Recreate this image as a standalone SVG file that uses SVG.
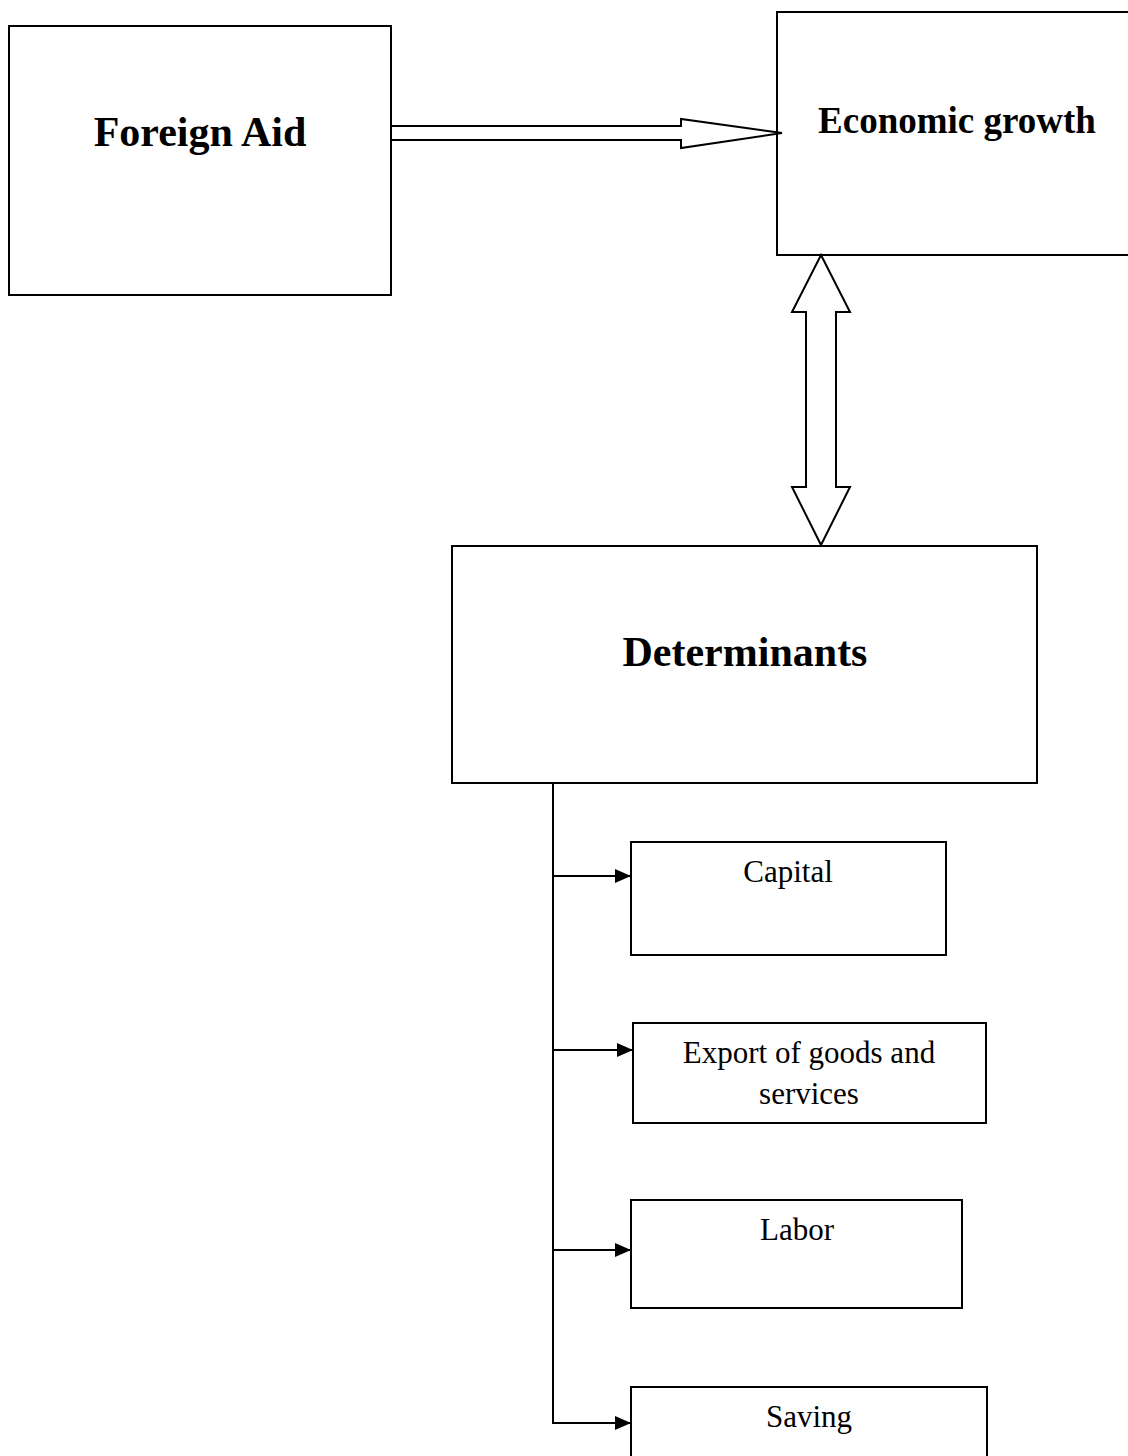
<svg xmlns="http://www.w3.org/2000/svg" width="1128" height="1456" viewBox="0 0 1128 1456">
<style>
.box{fill:#fff;stroke:#000;stroke-width:2}
.blk{fill:#fff;stroke:#000;stroke-width:2;stroke-linejoin:miter}
.ln{fill:none;stroke:#000;stroke-width:2}
.tb{font-family:"Liberation Serif","Times New Roman",serif;font-weight:bold;text-anchor:middle;fill:#000}
.tr{font-family:"Liberation Serif","Times New Roman",serif;font-size:31px;text-anchor:middle;fill:#000}
</style>
<defs>
<marker id="ah" markerWidth="16" markerHeight="16" viewBox="0 0 16 16" refX="16" refY="8" orient="auto" markerUnits="userSpaceOnUse">
<path d="M0,1 L16,8 L0,15 Z" fill="#000"/>
</marker>
</defs>
<rect width="1128" height="1456" fill="#fff"/>
<g id="foreign-aid">
<rect class="box" x="9" y="26" width="382" height="269"/>
<text class="tb" x="200" y="146" font-size="42">Foreign Aid</text>
</g>
<g id="economic-growth">
<rect class="box" x="777" y="12" width="360" height="243"/>
<text class="tb" x="957" y="133" font-size="37">Economic growth</text>
</g>
<g id="determinants">
<rect class="box" x="452" y="546" width="585" height="237"/>
<text class="tb" x="745" y="666" font-size="42">Determinants</text>
</g>
<g id="capital">
<rect class="box" x="631" y="842" width="315" height="113"/>
<text class="tr" x="788" y="882">Capital</text>
</g>
<g id="export">
<rect class="box" x="633" y="1023" width="353" height="100"/>
<text class="tr" x="809" y="1063">Export of goods and</text>
<text class="tr" x="809" y="1104">services</text>
</g>
<g id="labor">
<rect class="box" x="631" y="1200" width="331" height="108"/>
<text class="tr" x="797" y="1240">Labor</text>
</g>
<g id="saving">
<rect class="box" x="631" y="1387" width="356" height="80"/>
<text class="tr" x="809" y="1427">Saving</text>
</g>
<g id="connectors">
<polygon class="blk" points="391,126 681,126 681,119 782,133 681,148 681,140 391,140"/>
<polygon class="blk" points="821,255 850,312 836,312 836,487 850,487 821,545 792,487 806,487 806,312 792,312"/>
<line class="ln" x1="553" y1="783" x2="553" y2="1424"/>
<line class="ln" x1="553" y1="876" x2="631" y2="876" marker-end="url(#ah)"/>
<line class="ln" x1="553" y1="1050" x2="633" y2="1050" marker-end="url(#ah)"/>
<line class="ln" x1="553" y1="1250" x2="631" y2="1250" marker-end="url(#ah)"/>
<line class="ln" x1="552" y1="1423" x2="631" y2="1423" marker-end="url(#ah)"/>
</g>
</svg>
